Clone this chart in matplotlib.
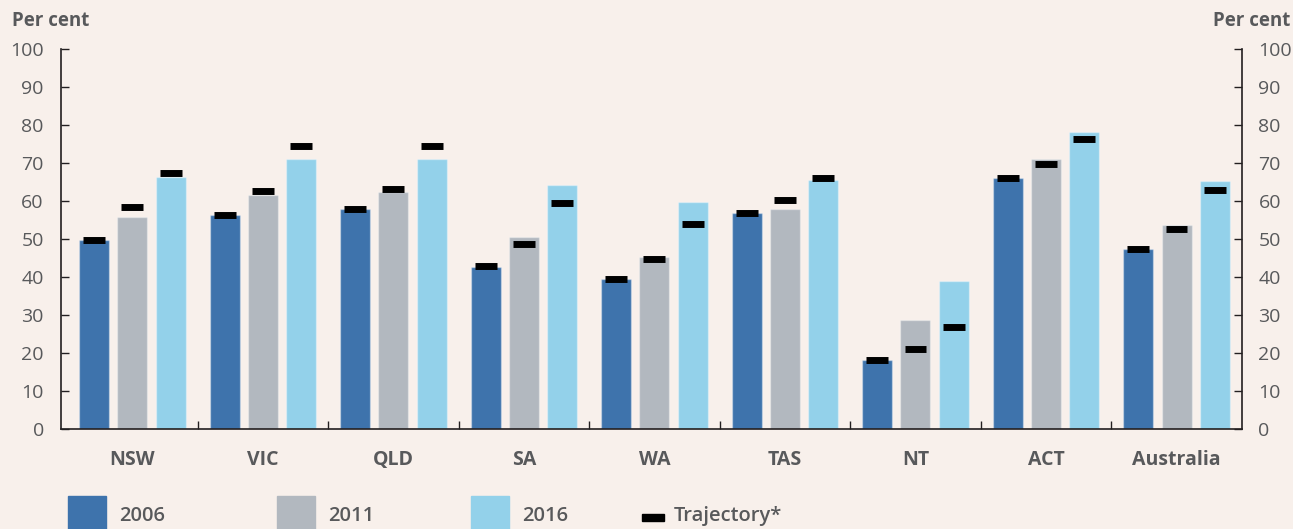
import matplotlib
matplotlib.use("Agg")
import matplotlib.pyplot as plt
from matplotlib.patches import Rectangle
import numpy as np

categories = ["NSW", "VIC", "QLD", "SA", "WA", "TAS", "NT", "ACT", "Australia"]
years = ["2006", "2011", "2016"]
v2006 = [49.8, 56.4, 57.9, 42.7, 39.6, 56.9, 18.2, 66.1, 47.3]
v2011 = [55.9, 61.5, 62.5, 50.5, 45.3, 57.9, 28.7, 71.0, 53.7]
v2016 = [66.4, 71.2, 71.2, 64.3, 59.8, 65.5, 39.0, 78.3, 65.2]
t2006 = [49.7, 56.3, 57.9, 42.9, 39.6, 57.0, 18.1, 66.2, 47.3]
t2011 = [58.4, 62.6, 63.3, 48.6, 44.7, 60.4, 21.2, 69.7, 52.6]
t2016 = [67.4, 74.5, 74.6, 59.5, 54.0, 66.1, 26.9, 76.3, 62.9]
yticks = [0, 10, 20, 30, 40, 50, 60, 70, 80, 90, 100]

colors = ["#3E73AC", "#B2B8BF", "#93D1EA"]
bg = "#F8F0EB"
txt = "#58595B"
font = "Open Sans"

plt.rcParams['font.family'] = [font, 'DejaVu Sans']

fig = plt.figure(figsize=(12.93, 5.29), dpi=100, facecolor=bg)
ax = fig.add_axes([60.5/1293, 1-429/529, (1241.8-60.5)/1293, (429-49.3)/529])
ax.set_facecolor(bg)

x = np.arange(len(categories))
off = 0.293
w = 0.23
vals = [v2006, v2011, v2016]
trajs = [t2006, t2011, t2016]
for k in range(3):
    ax.bar(x + (k-1)*off, vals[k], width=w, color=colors[k],
           edgecolor=(1, 1, 1, 0.35), linewidth=1.0, zorder=2)
    ax.hlines(trajs[k], x + (k-1)*off - 0.084, x + (k-1)*off + 0.084,
              colors="black", linewidth=5.0, capstyle="butt", zorder=3)

ax.set_xlim(-0.55, len(categories) - 0.5)
ax.set_ylim(0, 100)
ax.set_yticks(yticks)
ax.tick_params(axis='y', which='both', direction='in', length=6, width=1,
               color='#231F20', labelsize=14, labelcolor=txt, pad=12,
               left=True, right=True, labelleft=True, labelright=True)
ax.set_xticks(x)
ax.set_xticklabels(categories, fontsize=14, fontweight='bold', color=txt)
ax.tick_params(axis='x', which='major', length=0, pad=15)
ax.set_xticks(np.arange(0.5, len(categories) - 0.5, 1), minor=True)
ax.tick_params(axis='x', which='minor', direction='in', length=6, width=1, color='#231F20')

for s in ['top']:
    ax.spines[s].set_visible(False)
for s in ['left', 'right', 'bottom']:
    ax.spines[s].set_color('#231F20')
    ax.spines[s].set_linewidth(1.2)

fig.text(12/1293, 1-21/529, "Per cent", fontsize=13.5, fontweight='bold', color=txt,
         ha='left', va='center')
fig.text(1290/1293, 1-21/529, "Per cent", fontsize=13.5, fontweight='bold', color=txt,
         ha='right', va='center')

# legend
leg_x = [68, 277, 471]
for k in range(3):
    fig.patches.append(Rectangle((leg_x[k]/1293, 0), 38/1293, (529-495.7)/529,
                                 transform=fig.transFigure, color=colors[k]))
    fig.text((leg_x[k]+51)/1293, 1-515.7/529, years[k], fontsize=14.5, fontweight='semibold',
             color=txt, ha='left', va='center')
fig.patches.append(Rectangle((642/1293, 1-521/529), 22/1293, 7/529,
                             transform=fig.transFigure, color='black'))
fig.text(674/1293, 1-515.7/529, "Trajectory*", fontsize=14.5, fontweight='semibold',
         color=txt, ha='left', va='center')

fig.savefig("out.png", dpi=100, facecolor=bg)
